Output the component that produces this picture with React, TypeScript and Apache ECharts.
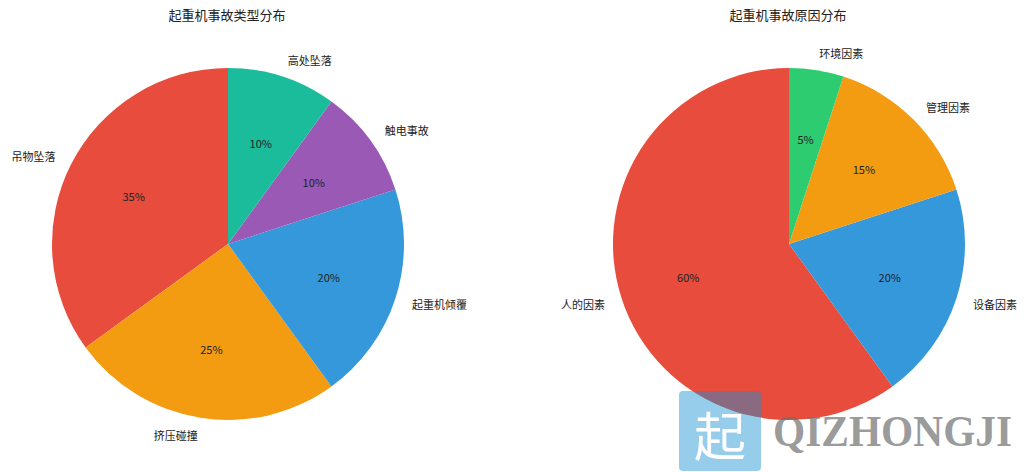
import React, { useEffect, useRef } from "react";
import * as echarts from "echarts";

const typeNames = ["吊物坠落", "挤压碰撞", "起重机倾覆", "触电事故", "高处坠落"];
const typeValues = [35, 25, 20, 10, 10];
const typeColors = ["#e74c3c", "#f39c12", "#3498db", "#9b59b6", "#1abc9c"];

const causeNames = ["人的因素", "设备因素", "管理因素", "环境因素"];
const causeValues = [60, 20, 15, 5];
const causeColors = ["#e74c3c", "#3498db", "#f39c12", "#2ecc71"];

const titles = ["起重机事故类型分布", "起重机事故原因分布"];
const watermarkText = "QIZHONGJI";
const watermarkChar = "起";

const FONT = '"Noto Sans CJK SC", "Noto Sans", sans-serif';
const R = 176;
const CY = 244;

function pieSeries(names: string[], values: number[], colors: string[], cx: number) {
  const data = names.map((n, i) => ({ name: n, value: values[i], itemStyle: { color: colors[i] } }));
  return [
    {
      type: "pie",
      center: [cx, CY],
      radius: R,
      startAngle: 90,
      clockwise: false,
      avoidLabelOverlap: false,
      silent: true,
      emphasis: { disabled: true },
      label: {
        show: true,
        position: "outside",
        formatter: "{b}",
        fontSize: 11,
        color: "#222",
        fontFamily: FONT,
        distanceToLabelLine: 0,
      },
      labelLine: { show: false, length: R * 0.1, length2: 0 },
      data,
    },
    {
      type: "pie",
      center: [cx, CY],
      radius: R * 1.17,
      startAngle: 90,
      clockwise: false,
      avoidLabelOverlap: false,
      silent: true,
      emphasis: { disabled: true },
      itemStyle: { color: "rgba(0,0,0,0)" },
      label: {
        show: true,
        position: "inside",
        formatter: "{c}%",
        fontSize: 11,
        color: "#222",
        fontFamily: FONT,
        textBorderWidth: 0,
      },
      labelLine: { show: false },
      data: names.map((n, i) => ({ name: n, value: values[i] })),
      z: 3,
    },
  ];
}

export default function App() {
  const ref = useRef<HTMLDivElement>(null);
  useEffect(() => {
    document.body.style.margin = "0";
    const chart = echarts.init(ref.current!, undefined, { renderer: "svg" });
    const titleStyle = { fontSize: 13, fontWeight: "normal", color: "#222", fontFamily: FONT };
    chart.setOption({
      animation: false,
      backgroundColor: "#ffffff",
      title: [
        { text: titles[0], left: 222, top: 3, textAlign: "center", textStyle: titleStyle },
        { text: titles[1], left: 783, top: 3, textAlign: "center", textStyle: titleStyle },
      ],
      series: [
        ...pieSeries(typeNames, typeValues, typeColors, 228),
        ...pieSeries(causeNames, causeValues, causeColors, 789),
      ],
      graphic: [
        {
          type: "rect",
          z: 100,
          shape: { x: 679, y: 391, width: 82, height: 80, r: 4 },
          style: { fill: "rgba(22,144,211,0.45)" },
        },
        {
          type: "text",
          z: 101,
          x: 720,
          y: 433,
          style: {
            text: watermarkChar,
            font: '52px "Noto Sans CJK SC", serif',
            fill: "#ffffff",
            align: "center",
            verticalAlign: "middle",
          },
        },
        {
          type: "text",
          z: 101,
          x: 773,
          y: 430,
          scaleX: 0.92,
          style: {
            text: watermarkText,
            font: 'bold 45px "Liberation Serif", serif',
            fill: "rgba(110,110,110,0.7)",
            align: "left",
            verticalAlign: "middle",
          },
        },
      ],
    });
    return () => chart.dispose();
  }, []);
  return <div ref={ref} style={{ width: 1024, height: 472 }} />;
}
